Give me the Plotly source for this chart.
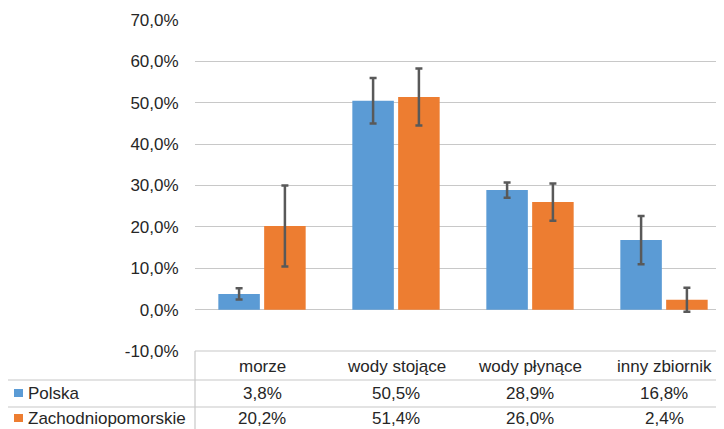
import plotly.graph_objects as go

categories = ["morze", "wody stojące", "wody płynące", "inny zbiornik"]
series_names = ["Polska", "Zachodniopomorskie"]
polska = [3.8, 50.5, 28.9, 16.8]
zachodniopomorskie = [20.2, 51.4, 26.0, 2.4]
polska_err = [1.35, 5.5, 1.85, 5.85]
zachodnio_err = [9.8, 6.9, 4.5, 2.9]
tick_values = [-10, 0, 10, 20, 30, 40, 50, 60, 70]
tick_labels = ["-10,0%", "0,0%", "10,0%", "20,0%", "30,0%", "40,0%", "50,0%", "60,0%", "70,0%"]
colors = ["#5B9BD5", "#ED7D31"]

# page body has an 8px default margin; compensate so screen positions match
OFF = 8
W, H = 724, 429
L, T, B = 195 - OFF, 20 - OFF, 429 - (351 - OFF)
PW, PH = W - L, H - T - B

def px(xs):
    return (xs - OFF - L) / PW

def py(ys):
    return (H - B - (ys - OFF)) / PH

FONT = "Liberation Sans, Arial, sans-serif"
FS = 17
GRID = "#C8C8C8"
TXT = "#262626"

fig = go.Figure()
for name, vals, errs, col in [(series_names[0], polska, polska_err, colors[0]),
                              (series_names[1], zachodniopomorskie, zachodnio_err, colors[1])]:
    fig.add_trace(go.Bar(
        x=list(range(len(categories))), y=vals, name=name,
        marker=dict(color=col, line=dict(width=0)),
        error_y=dict(type="data", array=errs, visible=True, color="#595959",
                     thickness=2.5, width=3.5),
        showlegend=False,
    ))

cat_px = 134.0
xr_end = -0.5 + PW / cat_px

shapes = []
annotations = []
line = dict(color=GRID, width=1.2)
shapes.append(dict(type="line", xref="paper", yref="paper", x0=0, x1=1, y0=0, y1=0, line=line))
for yy in [380, 407]:
    shapes.append(dict(type="line", xref="paper", yref="paper", x0=px(7), x1=1,
                       y0=py(yy), y1=py(yy), line=line))
shapes.append(dict(type="line", xref="paper", yref="paper", x0=0, x1=0,
                   y0=0, y1=py(440), line=line))
shapes.append(dict(type="line", xref="paper", yref="paper", x0=px(7), x1=px(7),
                   y0=py(380), y1=py(440), line=line))

for i, c in enumerate(categories):
    annotations.append(dict(x=i, y=py(366), xref="x", yref="paper", text=c,
                            showarrow=False, font=dict(family=FONT, size=FS, color=TXT),
                            xanchor="center", yanchor="middle"))

def fmt(v):
    return f"{v:.1f}".replace(".", ",") + "%"

rows = [(series_names[0], polska, colors[0], 393), (series_names[1], zachodniopomorskie, colors[1], 418)]
for name, vals, col, yy in rows:
    shapes.append(dict(type="rect", xref="paper", yref="paper", x0=px(14), x1=px(23),
                       y0=py(yy - 4), y1=py(yy + 4), fillcolor=col, line=dict(width=0)))
    annotations.append(dict(x=px(26), y=py(yy), xref="paper", yref="paper", text=name,
                            showarrow=False, font=dict(family=FONT, size=FS, color=TXT),
                            xanchor="left", yanchor="middle"))
    for i, v in enumerate(vals):
        annotations.append(dict(x=i, y=py(yy), xref="x", yref="paper", text=fmt(v),
                                showarrow=False, font=dict(family=FONT, size=FS, color=TXT),
                                xanchor="center", yanchor="middle"))

fig.update_layout(
    width=W, height=H,
    margin=dict(l=L, r=0, t=T, b=B, pad=0, autoexpand=False),
    paper_bgcolor="white", plot_bgcolor="white",
    barmode="group", bargap=0.316, bargroupgap=0.094,
    font=dict(family=FONT, size=FS, color=TXT),
    xaxis=dict(range=[-0.5, xr_end], showticklabels=False, showgrid=False,
               zeroline=False, showline=False, fixedrange=True, automargin=False),
    yaxis=dict(range=[-10, 70], tickmode="array", tickvals=tick_values, ticktext=tick_labels,
               showgrid=True, gridcolor=GRID, gridwidth=1.2,
               zeroline=True, zerolinecolor=GRID, zerolinewidth=1.2,
               showline=False, ticks="outside", ticklen=12, tickcolor="rgba(0,0,0,0)",
               tickfont=dict(family=FONT, size=FS, color=TXT), fixedrange=True,
               automargin=False),
    shapes=shapes, annotations=annotations,
)

fig.write_html("out.html")
